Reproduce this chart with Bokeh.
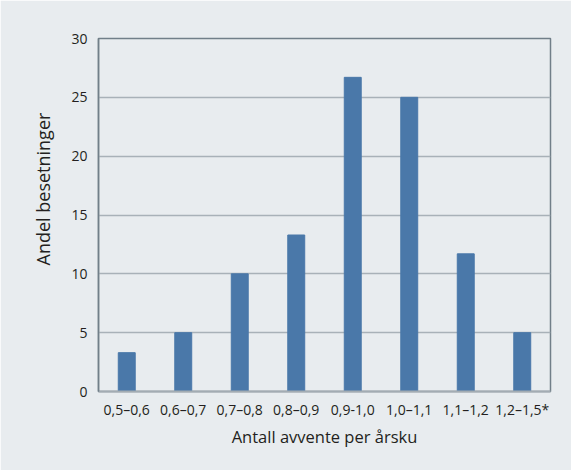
from bokeh.plotting import figure
from bokeh.models import FactorRange, Range1d, FixedTicker, Title
from bokeh.embed import file_html
from bokeh.resources import INLINE

categories = ["0,5–0,6", "0,6–0,7", "0,7–0,8", "0,8–0,9", "0,9-1,0", "1,0–1,1", "1,1–1,2", "1,2–1,5*"]
values = [3.3, 5.0, 10.0, 13.3, 26.7, 25.0, 11.7, 5.0]
y_ticks = [0, 5, 10, 15, 20, 25, 30]
x_title = "Antall avvente per årsku"
y_title = "Andel besetninger"

BG = "#e8ecef"
FONT = "Open Sans"
TXT = "#231f20"

p = figure(x_range=FactorRange(*categories), y_range=Range1d(0, 30),
           width=571, height=470, output_backend="svg", toolbar_location=None,
           min_border_left=98, min_border_right=21, min_border_top=38, min_border_bottom=79)
p.background_fill_color = BG
p.border_fill_color = BG
p.outline_line_color = "#717f89"
p.outline_line_width = 1.5

p.vbar(x=categories, top=values, width=0.3, color="#4a78a9")

p.xgrid.grid_line_color = None
p.ygrid.grid_line_color = "#a8b1b8"
p.ygrid.grid_line_width = 1.5
p.yaxis.ticker = FixedTicker(ticks=y_ticks)

for ax in (p.xaxis[0], p.yaxis[0]):
    ax.major_tick_line_color = None
    ax.minor_tick_line_color = None
    ax.major_label_text_font = FONT
    ax.major_label_text_font_size = "14px"
    ax.major_label_text_color = TXT
    ax.axis_label_text_font = FONT
    ax.axis_label_text_font_size = "16.5px"
    ax.axis_label_text_font_style = "normal"
    ax.axis_label_text_color = TXT

p.xaxis.axis_label = x_title
p.xaxis.axis_line_color = "#a3acb3"
p.xaxis.axis_line_width = 2
p.yaxis.axis_line_color = "#717f89"
p.yaxis.axis_line_width = 1.5
p.xaxis.major_label_standoff = 2
p.xaxis.axis_label_standoff = 3
p.yaxis.major_label_standoff = 5

ytitle = Title(text=y_title, align="left", offset=126, standoff=28,
               text_font=FONT, text_font_size="18px", text_font_style="normal",
               text_color=TXT)
p.add_layout(ytitle, "left")

open("out.html", "w").write(file_html(p, INLINE))
